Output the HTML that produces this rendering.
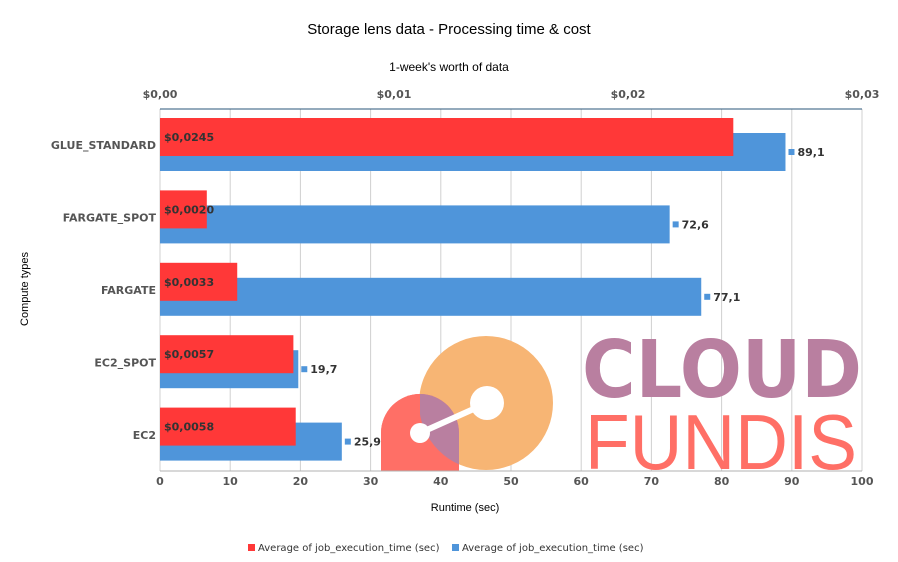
<!DOCTYPE html>
<html><head><meta charset="utf-8"><style>
body{margin:0;background:#fff;width:898px;height:557px;overflow:hidden;font-family:"Liberation Sans","DejaVu Sans",sans-serif}
text{font-family:"DejaVu Sans","Liberation Sans",sans-serif}
</style></head><body>
<svg id="chart" width="898" height="557" xmlns="http://www.w3.org/2000/svg">
<text x="449" y="34" text-anchor="middle" font-size="15" fill="#000" style="font-family:'Liberation Sans',sans-serif">Storage lens data - Processing time &amp; cost</text>
<text x="449" y="71" text-anchor="middle" font-size="12" fill="#000" style="font-family:'Liberation Sans',sans-serif">1-week's worth of data</text>
<text x="465" y="511" text-anchor="middle" font-size="11" fill="#000" style="font-family:'Liberation Sans',sans-serif">Runtime (sec)</text>
<text transform="translate(28,289) rotate(-90)" text-anchor="middle" font-size="11" fill="#000" style="font-family:'Liberation Sans',sans-serif">Compute types</text>
<g id="grid"></g>
<g id="logo">
<clipPath id="pc"><rect x="160" y="109" width="702" height="362"/></clipPath>
<g clip-path="url(#pc)">
<circle cx="486" cy="403" r="67" fill="#f7b574"/>
<clipPath id="rc"><path d="M381 471 V433 A39 39 0 0 1 459 433 V471 Z"/></clipPath>
<path d="M381 471 V433 A39 39 0 0 1 459 433 V471 Z" fill="#ff6f66"/>
<circle cx="486" cy="403" r="67" fill="#b97fa0" clip-path="url(#rc)"/>
<rect x="381" y="380" width="39" height="100" fill="#ff6f66" clip-path="url(#rc)"/>
<line x1="420" y1="433" x2="487" y2="403" stroke="#fff" stroke-width="6"/>
<circle cx="420" cy="433" r="10" fill="#fff"/>
<circle cx="487" cy="403" r="17" fill="#fff"/>
</g>
<text x="582" y="397" font-size="79" font-weight="bold" fill="#b97fa0" textLength="280" lengthAdjust="spacingAndGlyphs">CLOUD</text>
<text x="585" y="469" font-size="78" fill="#ff6f66" textLength="272" lengthAdjust="spacingAndGlyphs" style="font-family:'Liberation Sans',sans-serif;font-weight:100">FUNDIS</text>
</g>
<g id="bars"></g>
<g id="axes"></g>
<g>
<rect x="248" y="544" width="7" height="7" fill="#ff3838"/>
<text x="258" y="551" font-size="10" fill="#333">Average of job_execution_time (sec)</text>
<rect x="452" y="544" width="7" height="7" fill="#4f95da"/>
<text x="462" y="551" font-size="10" fill="#333">Average of job_execution_time (sec)</text>
</g>
</svg>
<script>
const categories=["GLUE_STANDARD","FARGATE_SPOT","FARGATE","EC2_SPOT","EC2"];
const costValues=[0.0245,0.0020,0.0033,0.0057,0.0058];
const costLabels=["$0,0245","$0,0020","$0,0033","$0,0057","$0,0058"];
const runtimeValues=[89.1,72.6,77.1,19.7,25.9];
const runtimeLabels=["89,1","72,6","77,1","19,7","25,9"];
const xTicks=[0,10,20,30,40,50,60,70,80,90,100];
const costTicks=[0,0.01,0.02,0.03];
const costTickLabels=["$0,00","$0,01","$0,02","$0,03"];
const NS="http://www.w3.org/2000/svg";
const L=160,R=862,T=109,B=471;
const xR=v=>L+v/100*(R-L);
const xC=v=>L+v/0.03*(R-L);
const band=(B-T)/categories.length;
function mk(tag,attrs,parent,txt){const e=document.createElementNS(NS,tag);for(const k in attrs)e.setAttribute(k,attrs[k]);if(txt!==undefined)e.textContent=txt;parent.appendChild(e);return e;}
const grid=document.getElementById('grid'),bars=document.getElementById('bars'),axes=document.getElementById('axes');
xTicks.forEach((t,i)=>{
  const g=mk('line',{x1:xR(t),x2:xR(t),y1:T,y2:B,stroke:'#d0d0d0','stroke-width':1},grid);
  
  
  const tx=mk('text',{x:xR(t),y:B+14,'text-anchor':'middle','font-size':11,'font-weight':'bold',fill:'#555'},axes,String(t));
  
  
});
costTicks.forEach((t,i)=>{
  const tx=mk('text',{x:xC(t),y:98,'text-anchor':'middle','font-size':11,'font-weight':'bold',fill:'#555'},axes,costTickLabels[i]);
  
  
});
categories.forEach((c,i)=>{
  const y0=T+i*band;
  const b=mk('rect',{x:L,y:y0+24,width:xR(runtimeValues[i])-L,height:38,fill:'#4f95da'},bars);
  
  
  const r=mk('rect',{x:L,y:y0+9,width:xC(costValues[i])-L,height:38,fill:'#ff3838'},bars);
  
  
  const cl=mk('text',{x:L+4,y:y0+32,'font-size':11,'font-weight':'bold',fill:'#333'},bars,costLabels[i]);
  
  
  const sw=mk('rect',{x:xR(runtimeValues[i])+3,y:y0+40,width:6,height:6,fill:'#4f95da'},bars);
  
  
  const rl=mk('text',{x:xR(runtimeValues[i])+12,y:y0+47,'font-size':11,'font-weight':'bold',fill:'#333'},bars,runtimeLabels[i]);
  
  
  const yl=mk('text',{x:L-4,y:y0+band/2+4,'text-anchor':'end','font-size':11,'font-weight':'bold',fill:'#555'},axes,c);
  
  
});
const ta=mk('line',{x1:L,x2:R,y1:T,y2:T,stroke:'#2a5578','stroke-width':1},axes);


const ba=mk('line',{x1:L,x2:R,y1:B,y2:B,stroke:'#b0b0b0','stroke-width':1},axes);


</script>
</body></html>
